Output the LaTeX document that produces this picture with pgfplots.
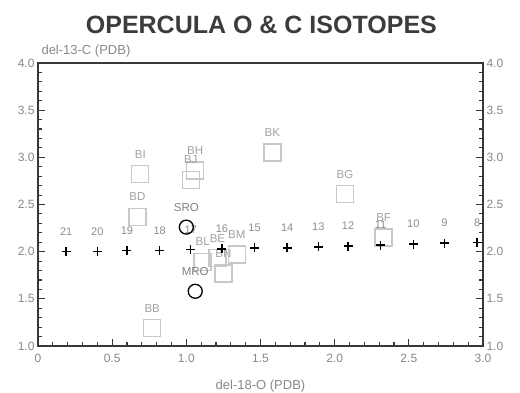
\documentclass[border=0pt]{standalone}
\usepackage{fontspec}
\setmainfont{Liberation Sans}
\usepackage{pgfplots}
\pgfplotsset{compat=1.18}
\definecolor{axisgray}{HTML}{383838}
\definecolor{ticklab}{HTML}{888888}
\definecolor{sqgray}{HTML}{C8C8C8}
\definecolor{sqlab}{HTML}{A0A0A0}
\definecolor{crosslab}{HTML}{8C8C8C}
\definecolor{titlegray}{HTML}{3C3C3C}
\begin{document}
\begin{tikzpicture}
\useasboundingbox (-38pt,-47pt) rectangle (482pt,346pt);
\begin{axis}[at={(0pt,0pt)}, anchor=south west, scale only axis,
    width=445pt, height=283pt,
    xmin=0, xmax=3, ymin=1, ymax=4,
    xtick={0,0.5,1,1.5,2,2.5,3},
    ytick={1,1.5,2,2.5,3,3.5,4},
    xticklabels={0,0.5,1.0,1.5,2.0,2.5,3.0},
    yticklabels={1.0,1.5,2.0,2.5,3.0,3.5,4.0},
    minor x tick num=4, minor y tick num=4,
    xtick pos=left,
    major tick length=7pt, minor tick length=4pt,
    every tick/.append style={axisgray, line width=1.1pt},
    axis line style={axisgray, line width=1.5pt},
    ticklabel style={font=\fontsize{12}{14}\selectfont\color{ticklab}},
    xticklabel style={yshift=-5pt},
    clip=false,
  ]
  % squares
  \addplot[only marks, mark=square, mark size=8.5pt, sqgray, line width=1.3pt,
    nodes near coords, point meta=explicit symbolic,
    every node near coord/.append style={anchor=center, yshift=20pt, text=sqlab, font=\fontsize{11.5}{13}\selectfont}]
    table[meta=lab] {
    x y lab
    0.69 2.82 BI
    1.06 2.86 BH
    1.03 2.76 BJ
    0.67 2.37 BD
    1.58 3.05 BK
    2.07 2.61 BG
    2.33 2.15 BF
    1.11 1.89 BL
    1.21 1.93 BE
    1.25 1.77 BN
    1.34 1.97 BM
    0.77 1.19 BB
  };
  % crosses
  \addplot[only marks, mark=+, mark size=4.5pt, black, line width=1.4pt,
    nodes near coords, point meta=explicit symbolic,
    every node near coord/.append style={anchor=center, yshift=20pt, text=crosslab, font=\fontsize{11}{13}\selectfont}]
    table[meta=lab] {
    x y lab
    0.19 2.00 21
    0.40 2.00 20
    0.60 2.01 19
    0.82 2.01 18
    1.03 2.02 17
    1.24 2.03 16
    1.46 2.04 15
    1.68 2.04 14
    1.89 2.05 13
    2.09 2.06 12
    2.31 2.07 11
    2.53 2.08 10
    2.74 2.09 9
    2.96 2.10 8
  };
  % circles
  \addplot[only marks, mark=o, mark size=7pt, black, line width=1.3pt,
    nodes near coords, point meta=explicit symbolic,
    every node near coord/.append style={anchor=center, yshift=20pt, text=sqlab!80!black, font=\fontsize{11.5}{13}\selectfont}]
    table[meta=lab] {
    x y lab
    1.00 2.26 SRO
    1.06 1.58 MRO
  };
  % right-side tick labels
  \node[anchor=west, text=ticklab, font=\fontsize{12}{14}\selectfont] at (axis cs:3,1.0) {1.0};
  \node[anchor=west, text=ticklab, font=\fontsize{12}{14}\selectfont] at (axis cs:3,1.5) {1.5};
  \node[anchor=west, text=ticklab, font=\fontsize{12}{14}\selectfont] at (axis cs:3,2.0) {2.0};
  \node[anchor=west, text=ticklab, font=\fontsize{12}{14}\selectfont] at (axis cs:3,2.5) {2.5};
  \node[anchor=west, text=ticklab, font=\fontsize{12}{14}\selectfont] at (axis cs:3,3.0) {3.0};
  \node[anchor=west, text=ticklab, font=\fontsize{12}{14}\selectfont] at (axis cs:3,3.5) {3.5};
  \node[anchor=west, text=ticklab, font=\fontsize{12}{14}\selectfont] at (axis cs:3,4.0) {4.0};
  \node[anchor=west, text=ticklab, font=\fontsize{13}{15}\selectfont] at (axis description cs:0,1.042) {del-13-C (PDB)};
  \node[anchor=center, text=ticklab, font=\fontsize{13}{15}\selectfont] at (axis description cs:0.5,-0.141) {del-18-O (PDB)};
  \node[anchor=center, text=titlegray, font=\bfseries\fontsize{25}{28}\selectfont] at (axis description cs:0.502,1.135) {OPERCULA O \& C ISOTOPES};
\end{axis}
\end{tikzpicture}
\end{document}
